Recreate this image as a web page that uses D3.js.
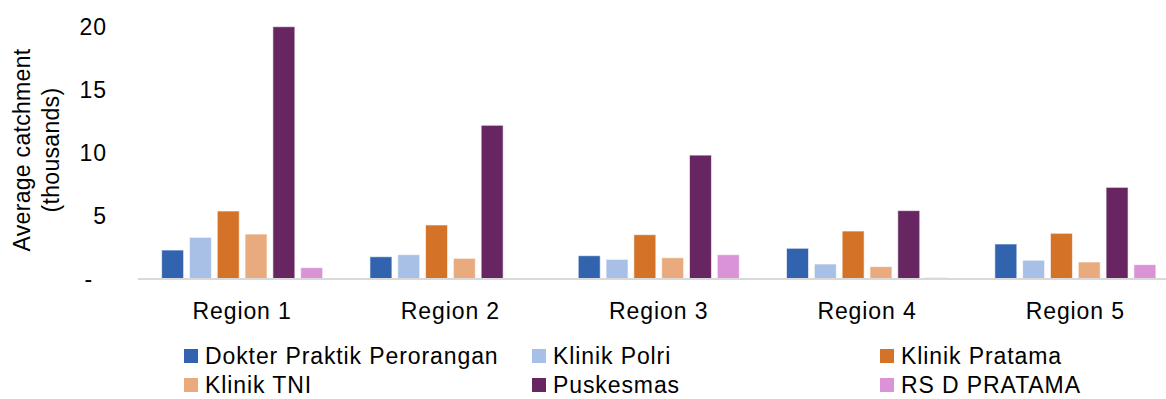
<!DOCTYPE html>
<html>
<head>
<meta charset="utf-8">
<script src="https://cdn.jsdelivr.net/npm/d3@7"></script>
<style>
  html, body { margin: 0; padding: 0; background: #fff; }
  svg text { font-family: "Liberation Sans", Arial, sans-serif; fill: #000; }
</style>
</head>
<body>
<svg id="chart" width="1166" height="399"></svg>
<script>
const regions = ["Region 1", "Region 2", "Region 3", "Region 4", "Region 5"];
const seriesNames = ["Dokter Praktik Perorangan", "Klinik Polri", "Klinik Pratama", "Klinik TNI", "Puskesmas", "RS D PRATAMA"];
const seriesColors = ["#3263AF", "#A8C0E6", "#D47228", "#E9AB7E", "#672662", "#D993D6"];
const dokterPraktik = [2.26, 1.73, 1.81, 2.40, 2.74];
const klinikPolri   = [3.27, 1.89, 1.52, 1.15, 1.45];
const klinikPratama = [5.36, 4.25, 3.48, 3.77, 3.59];
const klinikTNI     = [3.53, 1.60, 1.65, 0.94, 1.31];
const puskesmas     = [20.0, 12.17, 9.80, 5.39, 7.24];
const rsdPratama    = [0.86, 0.00, 1.89, 0.07, 1.10];
const yTicks = [0, 5, 10, 15, 20];
const yTitle = ["Average catchment", "(thousands)"];

const seriesValues = [dokterPraktik, klinikPolri, klinikPratama, klinikTNI, puskesmas, rsdPratama];

const svg = d3.select("#chart");
const plotLeft = 138, plotRight = 1179.5, plotTop = 26.7, plotBottom = 278.5;

const x0 = d3.scaleBand().domain(regions).range([plotLeft, plotRight]).paddingInner(0.227).paddingOuter(0.1135);
const x1 = d3.scaleBand().domain(seriesNames).range([0, x0.bandwidth()]).paddingInner(0.21).paddingOuter(0);
const y = d3.scaleLinear().domain([0, 20]).range([plotBottom, plotTop]);

// bars
const groups = svg.append("g").selectAll("g").data(regions).join("g")
  .attr("transform", d => `translate(${x0(d)},0)`);
groups.selectAll("rect")
  .data((r, i) => seriesNames.map((s, j) => ({ s, j, v: seriesValues[j][i] })))
  .join("rect")
  .attr("x", d => x1(d.s))
  .attr("width", x1.bandwidth())
  .attr("y", d => y(d.v))
  .attr("height", d => Math.max(0, plotBottom - y(d.v)))
  .attr("fill", (d) => seriesColors[d.j])
  .attr("stroke", "#fff")
  .attr("stroke-opacity", 0.6)
  .attr("stroke-width", 1);

// x axis line
svg.append("line")
  .attr("x1", plotLeft).attr("x2", plotRight)
  .attr("y1", plotBottom + 0.5).attr("y2", plotBottom + 0.5)
  .attr("stroke", "#D9D9D9").attr("stroke-width", 2);

// x labels
svg.append("g").selectAll("text").data(regions).join("text")
  .attr("x", d => x0(d) + x0.bandwidth() / 2)
  .attr("y", 319)
  .attr("text-anchor", "middle")
  .attr("font-size", 23)
  .attr("letter-spacing", 0.9)
  .text(d => d);

// y axis
const yAxis = d3.axisLeft(y).tickValues(yTicks).tickSize(0).tickPadding(0)
  .tickFormat(d => d === 0 ? "-" : d3.format("d")(d));
const ya = svg.append("g").attr("transform", "translate(107,0)").call(yAxis);
ya.select(".domain").remove();
ya.selectAll("text")
  .attr("font-size", 23)
  .attr("font-family", "Liberation Sans, Arial, sans-serif")
  .attr("letter-spacing", 0.9)
  .attr("fill", "#000")
  .attr("dy", "0.36em")
  .attr("dx", d => d === 0 ? -14 : 0);

// y title
const yt = svg.append("text")
  .attr("transform", "translate(0,150) rotate(-90)")
  .attr("text-anchor", "middle")
  .attr("font-size", 23)
  .attr("letter-spacing", 0.3);
yt.selectAll("tspan").data(yTitle).join("tspan")
  .attr("x", 0)
  .attr("y", (d, i) => 30 + i * 29)
  .text(d => d);

// legend
const legCols = [184, 532, 880];
const legRows = [356, 385];
const leg = svg.append("g").selectAll("g").data(seriesNames).join("g")
  .attr("transform", (d, i) => `translate(${legCols[i % 3]},${legRows[Math.floor(i / 3)]})`);
leg.append("rect").attr("x", 0).attr("y", -7).attr("width", 14).attr("height", 14)
  .attr("fill", (d, i) => seriesColors[i]);
leg.append("text").attr("x", 21).attr("y", 0).attr("dy", "0.34em")
  .attr("font-size", 23).attr("letter-spacing", 0.9).text(d => d);
</script>
</body>
</html>
